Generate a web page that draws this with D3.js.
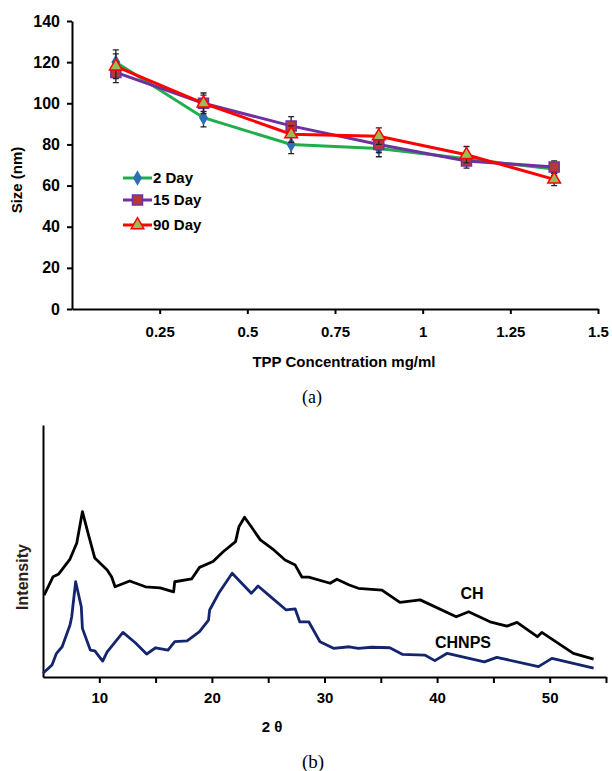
<!DOCTYPE html>
<html>
<head>
<meta charset="utf-8">
<script src="https://cdn.jsdelivr.net/npm/d3@7"></script>
<style>
  body { margin: 0; background: #fff; }
  svg { display: block; font-family: "Liberation Sans", Arial, sans-serif; }
  .axis path, .axis line { stroke: #000; stroke-width: 2; }
  .axis text { font-weight: bold; fill: #000; }
</style>
</head>
<body>
<div id="chart"></div>
<script>
// ---------- data (a): particle size vs TPP concentration ----------
const conc = [0.125, 0.375, 0.625, 0.875, 1.125, 1.375];
const day2 = [120, 93, 80, 78, 73, 68];
const day15 = [115, 100, 89, 80, 72, 69];
const day90 = [118, 100, 85, 84, 75, 63];
const err2 = [6, 4.5, 4.5, 4, 3, 3];
const err15 = [5, 4, 4.5, 4, 3.5, 3];
const err90 = [6, 5, 4, 4, 4, 3];
const concTicks = [0.25, 0.5, 0.75, 1, 1.25, 1.5];
const sizeTicks = [0, 20, 40, 60, 80, 100, 120, 140];

// ---------- data (b): XRD patterns ----------
const chTheta = [5.1, 5.9, 6.4, 7.4, 8.0, 8.5, 9.0, 9.6, 10.7, 11.1, 11.4, 12.7, 14.1, 15.4, 16.6, 16.7,
  18.2, 18.9, 20.1, 21.0, 22.1, 22.4, 22.9, 23.5, 24.3, 25.5, 26.5, 27.4, 28.0, 28.6, 30.5, 31.1,
  32.2, 33.0, 35.1, 36.7, 38.5, 41.7, 42.8, 44.7, 46.2, 47.1, 48.9, 49.3, 52.1, 53.9];
const chInt = [32.5, 39.8, 40.9, 46.8, 53.2, 65.6, 57.1, 47.2, 42.5, 39.7, 35.8, 38.1, 35.8, 35.4, 33.8, 37.8,
  38.9, 43.5, 45.8, 49.7, 53.7, 59.6, 63.4, 59.6, 54.4, 50.4, 46.4, 44.4, 39.6, 39.6, 37.2, 38.8,
  36.5, 35.2, 34.5, 29.6, 30.6, 23.9, 25.9, 21.9, 20.2, 21.7, 16.0, 17.7, 9.4, 7.1];
const npTheta = [5.0, 5.8, 6.2, 6.7, 7.4, 7.55, 7.9, 8.4, 8.5, 9.2, 9.6, 10.3, 10.7, 12.1, 13.2, 14.2,
  15.0, 16.1, 16.7, 17.8, 18.9, 19.7, 19.8, 20.6, 21.8, 23.5, 24.1, 25.2, 26.6, 27.4, 27.8, 28.6,
  29.6, 30.8, 32.2, 33.0, 34.2, 35.8, 36.9, 38.9, 39.8, 40.9, 44.2, 45.3, 49.0, 50.2, 53.9];
const npInt = [1.5, 4.8, 9.4, 12.0, 20.6, 23.9, 37.8, 27.9, 19.3, 10.7, 10.4, 6.3, 10.0, 17.7, 13.6, 9.1,
  11.6, 10.7, 14.0, 14.3, 18.0, 22.6, 26.6, 33.2, 41.2, 33.2, 36.1, 31.9, 26.6, 27.0, 21.9, 21.9,
  14.0, 11.4, 12.0, 11.4, 11.8, 11.6, 9.0, 8.7, 6.5, 9.4, 6.0, 7.8, 4.1, 7.4, 3.5];
const thetaTicks = [10, 15, 20, 25, 30, 35, 40, 45, 50, 55];

const width = 612;
const height = 771;
const svg = d3.select("#chart").append("svg")
  .attr("width", width)
  .attr("height", height);

//------------------------- chart (a) -------------------------
const x = d3.scaleLinear().domain([0, 1.5]).range([72, 598]);
const y = d3.scaleLinear().domain([0, 140]).range([309, 21]);

const xAxis = svg.append("g")
  .attr("class", "axis")
  .attr("transform", "translate(0," + y(0) + ")")
  .call(d3.axisBottom(x).tickValues(concTicks).tickFormat((d) => String(d))
    .tickSize(5).tickSizeOuter(0).tickPadding(12));
xAxis.selectAll("text").style("font-size", "15px");

const yAxis = svg.append("g")
  .attr("class", "axis")
  .attr("transform", "translate(" + x(0) + ",0)")
  .call(d3.axisLeft(y).tickValues(sizeTicks).tickSize(5).tickSizeOuter(0).tickPadding(7));
yAxis.selectAll("text").style("font-size", "16px");

svg.append("text")
  .attr("x", 344).attr("y", 367)
  .attr("text-anchor", "middle")
  .style("font-size", "15px").style("font-weight", "bold")
  .text("TPP Concentration mg/ml");

svg.append("text")
  .attr("transform", "translate(22,180) rotate(-90)")
  .attr("text-anchor", "middle")
  .style("font-size", "15px").style("font-weight", "bold")
  .text("Size (nm)");

const series = [
  { name: "2 Day", values: day2, err: err2, line: "#1fae4b", fill: "#2f6fb5", stroke: "#2f6fb5", symbol: d3.symbolDiamond, size: 45 },
  { name: "15 Day", values: day15, err: err15, line: "#7030a0", fill: "#b5393a", stroke: "#7030a0", symbol: d3.symbolSquare, size: 100 },
  { name: "90 Day", values: day90, err: err90, line: "#ff0000", fill: "#9bbb59", stroke: "#ff0000", symbol: d3.symbolTriangle, size: 70 }
];

const line = d3.line().x((d) => x(d[0])).y((d) => y(d[1]));

series.forEach((s) => {
  const pts = conc.map((c, i) => [c, s.values[i], s.err[i]]);
  const g = svg.append("g");
  // error bars
  g.selectAll(".eb").data(pts).enter().append("path")
    .attr("d", (d) => {
      const cx = x(d[0]), t = y(d[1] + d[2]), b = y(d[1] - d[2]);
      return "M" + cx + "," + t + "V" + b + "M" + (cx - 3) + "," + t + "H" + (cx + 3) + "M" + (cx - 3) + "," + b + "H" + (cx + 3);
    })
    .attr("stroke", "#222").attr("stroke-width", 1.3).attr("fill", "none");
  g.append("path").datum(pts)
    .attr("d", line)
    .attr("fill", "none").attr("stroke", s.line).attr("stroke-width", 3);
  g.selectAll(".mk").data(pts).enter().append("path")
    .attr("transform", (d) => "translate(" + x(d[0]) + "," + y(d[1]) + ")")
    .attr("d", d3.symbol().type(s.symbol).size(s.size))
    .attr("fill", s.fill).attr("stroke", s.stroke).attr("stroke-width", 1.5);
});

// legend
const legend = svg.append("g").attr("transform", "translate(123,178)");
series.forEach((s, i) => {
  const row = legend.append("g").attr("transform", "translate(0," + [0, 22, 47][i] + ")");
  row.append("line").attr("x1", 0).attr("x2", 29).attr("y1", 0).attr("y2", 0)
    .attr("stroke", s.line).attr("stroke-width", 3);
  row.append("path").attr("transform", "translate(14.5,0)")
    .attr("d", d3.symbol().type(s.symbol).size(s.size))
    .attr("fill", s.fill).attr("stroke", s.stroke).attr("stroke-width", 1.5);
  row.append("text").attr("x", 30).attr("y", 0).attr("dy", "0.35em")
    .style("font-size", "15px").style("font-weight", "bold")
    .text(s.name);
});

svg.append("text")
  .attr("x", 312).attr("y", 403)
  .attr("text-anchor", "middle")
  .style("font-family", "'Liberation Serif', 'Times New Roman', serif")
  .style("font-size", "18px")
  .text("(a)");

//------------------------- chart (b) -------------------------
const xb = d3.scaleLinear().domain([5, 55]).range([43, 606]);
const yb = d3.scaleLinear().domain([0, 100]).range([677, 425]);

const xbAxis = svg.append("g")
  .attr("class", "axis")
  .attr("transform", "translate(0," + yb(0) + ")")
  .call(d3.axisBottom(xb).tickValues(thetaTicks).tickFormat((d) => (d % 10 === 0 ? d : ""))
    .tickSize(6).tickSizeOuter(0).tickPadding(9));
xbAxis.selectAll("text").style("font-size", "15px");

svg.append("g")
  .attr("class", "axis")
  .attr("transform", "translate(" + xb(5) + ",0)")
  .call(d3.axisLeft(yb).tickValues([]).tickSizeOuter(0));

const lineB = d3.line().x((d) => xb(d[0])).y((d) => yb(d[1]));

svg.append("path")
  .datum(chTheta.map((t, i) => [t, chInt[i]]))
  .attr("d", lineB)
  .attr("fill", "none").attr("stroke", "#000").attr("stroke-width", 2.8)
  .attr("stroke-linejoin", "round");

svg.append("path")
  .datum(npTheta.map((t, i) => [t, npInt[i]]))
  .attr("d", lineB)
  .attr("fill", "none").attr("stroke", "#14256e").attr("stroke-width", 2.8)
  .attr("stroke-linejoin", "round");

svg.append("text")
  .attr("x", 472).attr("y", 599)
  .attr("text-anchor", "middle")
  .style("font-size", "16px").style("font-weight", "bold")
  .text("CH");

svg.append("text")
  .attr("x", 463).attr("y", 648)
  .attr("text-anchor", "middle")
  .style("font-size", "16px").style("font-weight", "bold")
  .text("CHNPS");

svg.append("text")
  .attr("x", 272).attr("y", 732)
  .attr("text-anchor", "middle")
  .style("font-size", "15px").style("font-weight", "bold")
  .text("2 θ");

svg.append("text")
  .attr("transform", "translate(28,577) rotate(-90)")
  .attr("text-anchor", "middle")
  .style("font-size", "16px").style("font-weight", "bold")
  .style("fill", "#2b2118")
  .text("Intensity");

svg.append("text")
  .attr("x", 313).attr("y", 768)
  .attr("text-anchor", "middle")
  .style("font-family", "'Liberation Serif', 'Times New Roman', serif")
  .style("font-size", "19px")
  .text("(b)");
</script>
</body>
</html>
